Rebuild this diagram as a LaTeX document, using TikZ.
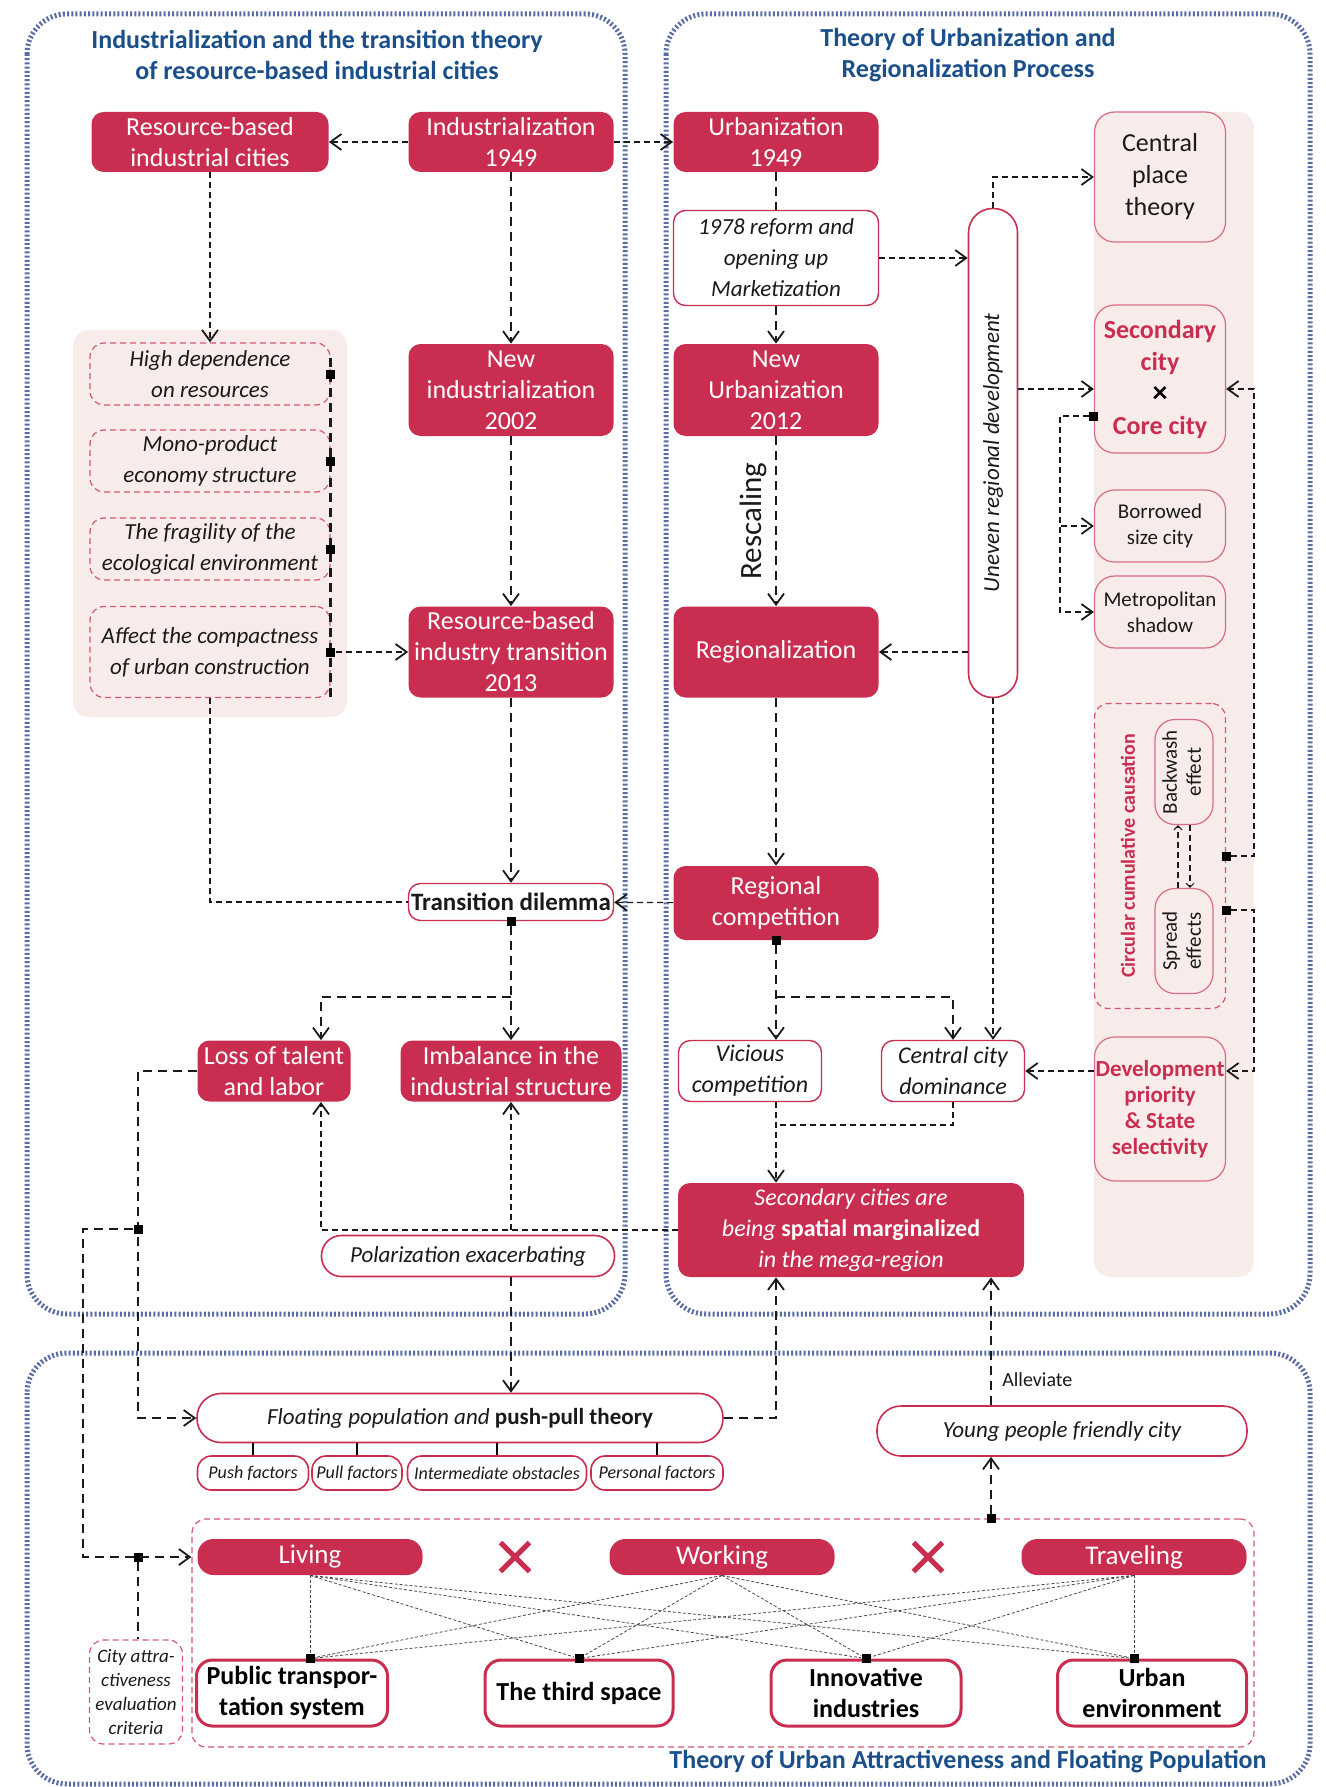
\documentclass[tikz,border=0pt]{standalone}
\usepackage{fontspec}
\setmainfont{Carlito}
\usepackage{tikz}
\usetikzlibrary{arrows.meta,positioning,calc,shapes.misc}
\definecolor{Crim}{HTML}{C92D4F}
\definecolor{Blush}{HTML}{F8ECEB}
\definecolor{Navy}{HTML}{1B4F8A}
\definecolor{Frame}{HTML}{5A6BA5}
\definecolor{Ink}{HTML}{1A1A1A}

\begin{document}
\begin{tikzpicture}[x=0.5pt,y=-0.5pt,
  sz/.style 2 args={minimum width={#1*0.5pt},minimum height={#2*0.5pt}},
  redbox/.style={rectangle,rounded corners=6pt,fill=Crim,text=white,align=center,inner sep=0pt,font=\fontsize{13}{15.5}\selectfont},
  whitebox/.style={rectangle,rounded corners=6pt,draw=Crim,line width=0.7pt,fill=white,text=Ink,align=center,inner sep=0pt,font=\fontsize{12}{15.5}\selectfont\itshape},
  pinkbox/.style={rectangle,rounded corners=10pt,draw=Crim!70,line width=0.6pt,fill=Blush,text=Ink,align=center,inner sep=0pt},
  dashbox/.style={rectangle,rounded corners=7pt,draw=Crim!80,line width=0.6pt,dash pattern=on 3pt off 2pt,align=center,inner sep=0pt,text=Ink,font=\fontsize{11.5}{15.5}\selectfont\itshape},
  pill/.style={rectangle,rounded corners=10pt,draw=Crim,line width=0.8pt,fill=white,align=center,inner sep=0pt,text=Ink,font=\fontsize{11.5}{14}\selectfont},
  keybox/.style={rectangle,rounded corners=8pt,draw=Crim,line width=1.5pt,fill=white,align=center,inner sep=0pt,text=black,font=\fontsize{13}{15.5}\selectfont\bfseries},
  title/.style={text=Navy,align=center,font=\fontsize{13}{15.5}\selectfont\bfseries},
  frame/.style={Frame,line width=2.5pt,dash pattern=on 1pt off 1.1pt,rounded corners=20pt},
  flow/.style={Ink,line width=1.25pt,dash pattern=on 4.5pt off 3pt},
  lnk/.style={Ink,line width=0.6pt,dash pattern=on 3pt off 2pt},
  grid/.style={Ink!80,line width=0.4pt,dash pattern=on 1.5pt off 1pt},
  tie/.style={black,line width=1pt},
  sqm/.style={rectangle,fill=black,minimum size=4.5pt,inner sep=0pt},
  smallhead/.style={>={Straight Barb[length=2pt,width=4pt,line width=0.5pt]}},
  >={Straight Barb[length=5.5pt,width=8pt,line width=0.9pt]}]
  \useasboundingbox (0,0) rectangle (1326,1787);
  \draw[frame] (27,14) rectangle (625,1314);
  \draw[frame] (666,14) rectangle (1310,1314);
  \draw[frame] (27,1353) rectangle (1310,1784);
  \fill[Blush,rounded corners=8pt] (73,330) rectangle (347,717);
  \fill[Blush,rounded corners=8pt] (1094,112) rectangle (1254,1277);

  \node[title] (ttlInd) at (317,55) {Industrialization and the transition theory\\of resource-based industrial cities};
  \node[title] (ttlUrb) at (968,55) {Theory of Urbanization and\\Regionalization Process};
  \node[title] (ttlAttr) at (968,1762) {Theory of Urban Attractiveness and Floating Population};

  \node[redbox,sz={237}{60}] (resCity) at (210,142) {Resource-based\\industrial cities};
  \node[redbox,sz={205}{60}] (ind49) at (511,142) {Industrialization\\1949};
  \node[redbox,sz={205}{92}] (newInd) at (511,390) {New\\industrialization\\2002};
  \node[redbox,sz={205}{91}] (rbTrans) at (511,652) {Resource-based\\industry transition\\2013};
  \node[whitebox,sz={205}{37},font=\fontsize{12.5}{15}\selectfont\bfseries] (dilemma) at (511,902) {Transition dilemma};
  \node[redbox,sz={153}{61}] (lossTal) at (274,1071) {Loss of talent\\and labor};
  \node[redbox,sz={221}{61}] (imbal) at (511,1071) {Imbalance in the\\industrial structure};
  \node[pill,sz={293}{41},font=\fontsize{11.5}{14}\selectfont\itshape] (polar) at (468,1256) {Polarization exacerbating};

  \node[dashbox,sz={240}{62}] (hiDep) at (210,374) {High dependence\\on resources};
  \node[dashbox,sz={240}{62}] (mono) at (210,461) {Mono-product\\economy structure};
  \node[dashbox,sz={240}{62}] (fragil) at (210,549) {The fragility of the\\ecological environment};
  \node[dashbox,sz={240}{91}] (affect) at (210,652) {Affect the compactness\\of urban construction};

  \node[redbox,sz={205}{60}] (urb49) at (776,142) {Urbanization\\1949};
  \node[whitebox,sz={205}{95},font=\fontsize{11.5}{15.5}\selectfont\itshape] (reform) at (776,258) {1978 reform and\\opening up\\Marketization};
  \node[redbox,sz={205}{92}] (newUrb) at (776,390) {New\\Urbanization\\2012};
  \node[redbox,sz={205}{91}] (region) at (776,652) {Regionalization};
  \node[redbox,sz={205}{74}] (regComp) at (776,903) {Regional\\competition};
  \node[whitebox,sz={143}{61}] (vicious) at (750,1071) {Vicious\\competition};
  \node[whitebox,sz={143}{61}] (central) at (953,1071) {Central city\\dominance};
  \node[redbox,sz={346}{94},font=\fontsize{12}{15.5}\selectfont\itshape] (margin) at (851,1230) {Secondary cities are\\being {\upshape\bfseries spatial marginalized}\\in the mega-region};
  \node[pill,rounded corners=12pt,sz={49}{489},font=\fontsize{11.5}{14}\selectfont\itshape] (uneven) at (993,453) {\rotatebox{90}{Uneven regional development}};

  \node[pinkbox,sz={131}{130},font=\fontsize{13}{16}\selectfont] (cpt) at (1160,177) {Central\\place\\theory};
  \node[pinkbox,sz={131}{148},text=Crim,font=\fontsize{13}{16}\selectfont\bfseries] (secCore) at (1160,379) {Secondary\\city\\{\color{black}\fontsize{15}{16}\selectfont ×}\\Core city};
  \node[pinkbox,sz={131}{72},font=\fontsize{10.5}{13}\selectfont] (borrowed) at (1160,526) {Borrowed\\size city};
  \node[pinkbox,sz={131}{72},font=\fontsize{10.5}{13}\selectfont] (metro) at (1160,612) {Metropolitan\\shadow};
  \node[dashbox,sz={131}{305}] (ccc) at (1160,856) {};
  \node[text=Crim,font=\fontsize{10}{12}\selectfont\bfseries,rotate=90] (cccLbl) at (1128,856) {Circular cumulative causation};
  \node[pinkbox,sz={58}{105},font=\fontsize{10.5}{12}\selectfont] (backwash) at (1184,772) {\rotatebox{90}{\begin{tabular}{@{}c@{}}Backwash\\effect\end{tabular}}};
  \node[pinkbox,sz={58}{105},font=\fontsize{10.5}{12}\selectfont] (spread) at (1184,941) {\rotatebox{90}{\begin{tabular}{@{}c@{}}Spread\\effects\end{tabular}}};
  \node[pinkbox,sz={131}{144},text=Crim,font=\fontsize{11.5}{13}\selectfont\bfseries] (devPri) at (1160,1109) {Development\\priority\\\& State\\selectivity};

  \node[pill,rounded corners=12pt,sz={526}{49}] (floatPop) at (460,1418) {\itshape Floating population and \upshape\bfseries push-pull theory};
  \node[pill,rounded corners=7pt,sz={111}{34},font=\fontsize{9}{11}\selectfont\itshape] (push) at (253,1473) {Push factors};
  \node[pill,rounded corners=7pt,sz={90}{34},font=\fontsize{9}{11}\selectfont\itshape] (pull) at (357,1473) {Pull factors};
  \node[pill,rounded corners=7pt,sz={179}{34},font=\fontsize{9}{11}\selectfont\itshape] (inter) at (497,1473) {Intermediate obstacles};
  \node[pill,rounded corners=7pt,sz={132}{34},font=\fontsize{9}{11}\selectfont\itshape] (persn) at (657,1473) {Personal factors};
  \node[pill,rounded corners=12pt,sz={370}{50},font=\fontsize{11.5}{14}\selectfont\itshape] (young) at (1062,1431) {Young people friendly city};

  \node[dashbox,sz={1062}{228}] (lwt) at (723,1633) {};
  \node[redbox,rounded corners=8pt,sz={225}{36},font=\fontsize{13.5}{16}\selectfont] (living) at (310,1557) {Living};
  \node[redbox,rounded corners=8pt,sz={225}{36},font=\fontsize{13.5}{16}\selectfont] (working) at (722,1557) {Working};
  \node[redbox,rounded corners=8pt,sz={225}{36},font=\fontsize{13.5}{16}\selectfont] (travel) at (1134,1557) {Traveling};
  \node[cross out,draw=Crim,line width=2.5pt,minimum size=12pt,inner sep=0pt] (crossA) at (515,1557) {};
  \node[cross out,draw=Crim,line width=2.5pt,minimum size=12pt,inner sep=0pt] (crossB) at (928,1557) {};
  \node[keybox,sz={191}{66}] (public) at (292,1693) {Public transpor-\\tation system};
  \node[keybox,sz={188}{66}] (third) at (579,1693) {The third space};
  \node[keybox,sz={190}{66}] (innov) at (866,1693) {Innovative\\industries};
  \node[keybox,sz={189}{66}] (urban) at (1152,1693) {Urban\\environment};
  \node[dashbox,sz={93}{104},font=\fontsize{9.5}{12}\selectfont\itshape] (cityAttr) at (136,1692) {City attra-\\ctiveness\\evaluation\\criteria};

  \draw[lnk,->] (ind49) -- (resCity);
  \draw[lnk,->] (ind49) -- (urb49);
  \draw[flow,->] (ind49) -- (newInd);
  \draw[flow,->] (newInd) -- (rbTrans);
  \draw[flow,->] (rbTrans) -- (dilemma);
  \draw[lnk,->] (resCity) -- (hiDep);
  \draw[flow] ($(hiDep.north east)+(0,16)$) -- (affect.south east);
  \foreach \b in {hiDep,mono,fragil,affect}
    \node[sqm] (m\b) at (\b.east) {};
  \draw[lnk,->] (maffect) -- (rbTrans);
  \draw[lnk] (affect.south) |- (dilemma.west);

  \node[sqm] (mDil) at (dilemma.south) {};
  \coordinate (splitL) at (511,997);
  \coordinate (lossIn) at ($(lossTal.north)+(47,0)$);
  \coordinate (lossOut) at ($(lossTal.south)+(47,0)$);
  \draw[flow,->] (mDil) -- (imbal);
  \draw[flow,->] (splitL) -| (lossIn);
  \draw[lnk,->] (margin.west) -| (lossOut);
  \draw[lnk,->] (margin.west -| imbal.south) -- (imbal.south);
  \draw[flow,->] (polar.south -| imbal.south) -- (floatPop.north -| imbal.south);

  \draw[flow,->] (lossTal.west) -- ++(-59,0) |- (floatPop.west);
  \node[sqm] (mLoss) at (138,1229) {};
  \node[sqm] (mCrit) at (mLoss |- living) {};
  \draw[flow,->] (mLoss) -- ++(-55,0) |- (lwt.west |- living.west);
  \draw[flow] (mCrit) -- (mCrit |- cityAttr.north);
  \draw[flow,->] (floatPop.east) -| (margin.south -| regComp.south);
  \foreach \f in {push,pull,inter,persn}
    \draw[tie] (\f.north) -- (\f.north |- floatPop.south);

  \draw[flow] (urb49) -- (reform);
  \draw[flow,->] (reform) -- (newUrb);
  \draw[flow,->] (newUrb) -- node[rotate=90,anchor=south,inner sep=4pt,font=\fontsize{15.5}{18}\selectfont] (rescaleLbl) {Rescaling} (region);
  \draw[flow,->] (region) -- (regComp);
  \draw[lnk,->] (reform.east) -- (reform.east -| uneven.west);
  \draw[lnk,->] (uneven.north) |- (cpt.west);
  \coordinate (coreIn) at ($(secCore.west)+(0,10)$);
  \draw[lnk,->] (coreIn -| uneven.east) -- (coreIn);
  \draw[lnk,->] (uneven.west |- region.east) -- (region.east);
  \draw[lnk,->] (uneven.south) -- (uneven.south |- central.north);
  \node[sqm] (mCore) at ($(secCore.west)+(0,37)$) {};
  \draw[lnk,->] (mCore) -- ++(-34,0) |- (borrowed.west);
  \draw[lnk,->] (mCore) -- ++(-34,0) |- (metro.west);

  \draw[lnk,->] (regComp) -- (dilemma);
  \node[sqm] (mComp) at (regComp.south) {};
  \coordinate (splitR) at (776,997);
  \coordinate (joinR) at (776,1125);
  \draw[flow,->] (mComp) -- (mComp |- vicious.north);
  \draw[flow,->] (splitR) -| (central.north);
  \draw[lnk,->] (vicious.south -| mComp) -- (margin.north -| mComp);
  \draw[lnk] (central.south) |- (joinR);
  \draw[lnk,->] (devPri.west |- central.east) -- (central.east);

  \coordinate (busR) at (1254,0);
  \coordinate (backIn) at ($(secCore.east)+(0,10)$);
  \node[sqm] (mBack) at (ccc.east) {};
  \node[sqm] (mSpread) at ($(ccc.east)+(0,54)$) {};
  \draw[lnk,->] (mBack) -- (busR |- mBack) |- (backIn);
  \draw[lnk,->] (mSpread) -- (busR |- mSpread) |- (devPri.east |- central.east);
  \draw[lnk,smallhead,->] ($(spread.north)+(-6,0)$) -- ($(backwash.south)+(-6,0)$);
  \draw[lnk,smallhead,->] ($(backwash.south)+(6,0)$) -- ($(spread.north)+(6,0)$);

  \coordinate (axU) at (991,0);
  \node[sqm] (mLwt) at (lwt.north -| axU) {};
  \draw[flow,->] (mLwt) -- (mLwt |- young.south);
  \draw[flow,->] (young.north -| axU) -- node[pos=0.2,anchor=west,inner sep=5pt,font=\fontsize{10}{12}\selectfont] (allevLbl) {Alleviate} (margin.south -| axU);

  \node[sqm] (tPub) at (public.north -| living.south) {};
  \node[sqm] (tThird) at (third.north) {};
  \node[sqm] (tInno) at (innov.north) {};
  \node[sqm] (tUrb) at (urban.north -| travel.south) {};
  \foreach \s in {living,working,travel}
    \foreach \t in {tPub,tThird,tInno,tUrb}
      \draw[grid] (\s.south) -- (\t);
\end{tikzpicture}
\end{document}
